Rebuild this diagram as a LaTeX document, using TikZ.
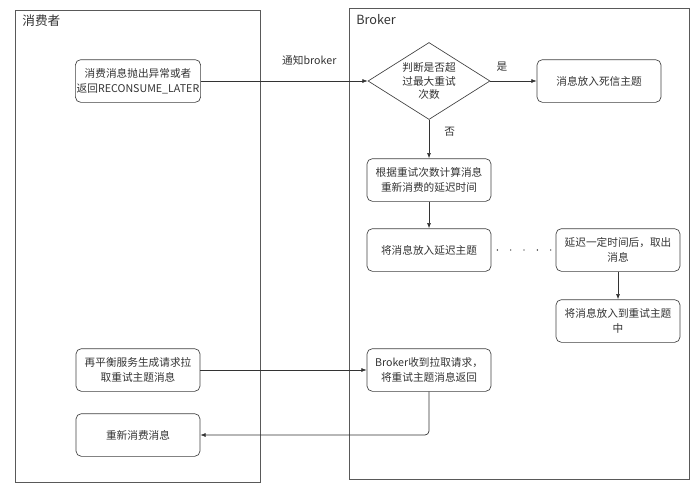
\documentclass[tikz,border=0pt]{standalone}
\usepackage{fontspec}
\setmainfont{Noto Sans CJK SC}
\usetikzlibrary{shapes.geometric,arrows.meta}
\begin{document}
\begin{tikzpicture}[
        x=0.75pt, y=-0.75pt,
        font=\fontsize{8}{11}\selectfont,
        text=black!80,
        frame/.style={
            draw=black!65,
            line width=0.6pt
        },
        title/.style={
            anchor=north west,
            font=\fontsize{9.5}{11}\selectfont,
            inner sep=0pt
        },
        box/.style={
            draw=black!75,
            rounded corners=4pt,
            minimum width=93pt,
            minimum height=32pt,
            align=center,
            inner sep=1pt
        },
        judge/.style={
            draw=black!75,
            diamond,
            shape aspect=1.6,
            minimum width=91.5pt,
            minimum height=57.75pt,
            inner sep=0pt,
            align=center,
            font=\fontsize{8}{10}\selectfont
        },
        arr/.style={-{Latex[length=4pt,width=3pt]}, draw=black!80},
        every path/.style={line width=0.5pt}
    ]

    \useasboundingbox (0,0) rectangle (695,489);

    % two lanes
    \draw[frame] (15,10) rectangle (260,482);
    \draw[frame] (349,8) rectangle (689,479);
    \node[title] (consumer) at (22,15) {消费者};
    \node[title] (broker) at (356,14) {Broker};

    % consumer side
    \node[box] (fail) at (138,81)
        {消费消息抛出异常或者\\返回RECONSUME\_LATER};
    \node[box] (rebal) at (138,370)
        {再平衡服务生成请求拉\\取重试主题消息};
    \node[box] (again) at (138,435)
        {重新消费消息};

    % broker side
    \node[judge] (check) at (429,81)
        {判断是否超\\过最大重试\\次数};
    \node[box] (dead) at (599,81)
        {消息放入死信主题};
    \node[box] (calc) at (429,180)
        {根据重试次数计算消息\\重新消费的延迟时间};
    \node[box] (delay) at (429,250)
        {将消息放入延迟主题};
    \node[box] (fetch) at (618,250)
        {延迟一定时间后，取出\\消息};
    \node[box] (retry) at (618,321)
        {将消息放入到重试主题\\中};
    \node[box] (pull) at (429,370)
        {Broker收到拉取请求，\\将重试主题消息返回};

    \draw[arr] (fail) -- node[above=8pt, pos=0.65] {通知broker} (check);
    \draw[arr] (check) -- node[above=4pt, pos=0.25] {是} (dead);
    \draw[arr] (check) -- node[right=8pt, pos=0.3] {否} (calc);
    \draw[arr] (calc) -- (delay);
    \draw[line width=1pt, line cap=round, dash pattern=on 0pt off 10pt]
        ([xshift=4.5pt]delay.east) -- (fetch.west);
    \draw[arr] (fetch) -- (retry);
    \draw[arr] (rebal) -- (pull);
    \draw[arr, rounded corners=3pt] (pull.south) |- (again.east);

\end{tikzpicture}
\end{document}
